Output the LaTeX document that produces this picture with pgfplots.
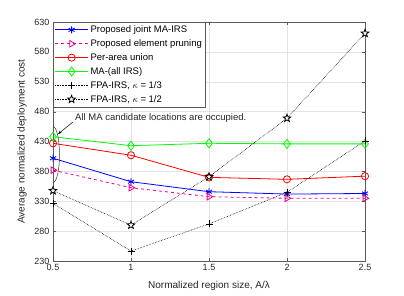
\documentclass[border=0pt]{standalone}
\usepackage{fontspec}
\setmainfont{Liberation Sans}
\usepackage{pgfplots}
\pgfplotsset{compat=1.18}
\usetikzlibrary{plotmarks,arrows.meta}
\pgfdeclareplotmark{pentagram}{%
  \pgfpathmoveto{\pgfpointpolar{90}{\pgfplotmarksize}}%
  \pgfpathlineto{\pgfpointpolar{126}{0.42\pgfplotmarksize}}%
  \pgfpathlineto{\pgfpointpolar{162}{\pgfplotmarksize}}%
  \pgfpathlineto{\pgfpointpolar{198}{0.42\pgfplotmarksize}}%
  \pgfpathlineto{\pgfpointpolar{234}{\pgfplotmarksize}}%
  \pgfpathlineto{\pgfpointpolar{270}{0.42\pgfplotmarksize}}%
  \pgfpathlineto{\pgfpointpolar{306}{\pgfplotmarksize}}%
  \pgfpathlineto{\pgfpointpolar{342}{0.42\pgfplotmarksize}}%
  \pgfpathlineto{\pgfpointpolar{18}{\pgfplotmarksize}}%
  \pgfpathlineto{\pgfpointpolar{54}{0.42\pgfplotmarksize}}%
  \pgfpathclose
  \pgfusepathqfillstroke}
\begin{document}
\begin{tikzpicture}
\useasboundingbox (-53pt,-34pt) rectangle (351pt,261pt);
\begin{axis}[
  scale only axis, width=312pt, height=239pt,
  xmin=0.5, xmax=2.5, ymin=230, ymax=630,
  xtick={0.5,1,1.5,2,2.5}, ytick={230,280,...,630},
  xticklabels={0.5,1,1.5,2,2.5},
  grid=major, grid style={gray!22, line width=0.4pt},
  axis line style={black!65, line width=0.4pt},
  tick style={black!65}, tick align=inside, major tick length=3pt,
  /pgf/number format/assume math mode=true,
  font=\fontsize{9}{11}\selectfont,
  ticklabel style={font=\fontsize{9}{11}\selectfont, black!85},
  label style={font=\fontsize{10}{12}\selectfont, black!85},
  xlabel={Normalized region size, A/λ},
  ylabel={Average normalized deployment cost},
  xlabel style={at={(axis description cs:0.5,-0.104)}, anchor=center},
  ylabel style={at={(axis description cs:-0.099,0.5)}, anchor=center},
  legend cell align=left,
  legend style={at={(0,1)}, anchor=north west, draw=black!65, line width=0.4pt,
     font=\fontsize{9.5}{11}\selectfont, inner sep=1.5pt, row sep=1.5pt},
  legend image code/.code={\draw[mark repeat=2,mark phase=2] plot coordinates {(0cm,0cm) (0.58cm,0cm) (1.16cm,0cm)};},
]
\addplot[blue, line width=0.8pt, mark=asterisk, mark size=3.5pt] coordinates {(0.5,402) (1,362.7) (1.5,346) (2,342) (2.5,343)};
\addlegendentry{Proposed joint MA-IRS}
\addplot[magenta, line width=0.8pt, dashed, mark=triangle, mark size=3.8pt, mark options={solid, rotate=-90}] coordinates {(0.5,382) (1,352.7) (1.5,337.6) (2,335) (2.5,335)};
\addlegendentry{Proposed element pruning}
\addplot[red, line width=0.8pt, mark=o, mark size=3.6pt] coordinates {(0.5,427) (1,407) (1.5,370) (2,366.7) (2.5,372)};
\addlegendentry{Per-area union}
\addplot[green, line width=0.8pt, mark=diamond, mark size=4.5pt] coordinates {(0.5,438) (1,423) (1.5,427) (2,426) (2.5,426)};
\addlegendentry{MA-(all IRS)}
\addplot[black, line width=0.6pt, densely dotted, mark=+, mark size=3.5pt, mark options={solid}] coordinates {(0.5,326.5) (1,246.7) (1.5,292) (2,345) (2.5,431)};
\addlegendentry{FPA-IRS, $\kappa$ = 1/3}
\addplot[black, line width=0.6pt, densely dotted, mark=pentagram, mark size=4pt, mark options={solid, fill=white, line width=0.8pt}] coordinates {(0.5,347.7) (1,290) (1.5,371) (2,469) (2.5,611)};
\addlegendentry{FPA-IRS, $\kappa$ = 1/2}
\draw[black!80, line width=0.5pt] (axis cs:0.5,408) ellipse [x radius=6.5pt, y radius=28pt];
\draw[black, line width=0.5pt, -{Stealth[length=4pt,width=3pt]}] (axis cs:0.628,462.6) -- (axis cs:0.532,442.5);
\node[anchor=west, inner sep=0pt, font=\fontsize{9.5}{11}\selectfont, black!85] at (axis cs:0.641,470) {All MA candidate locations are occupied.};
\end{axis}
\end{tikzpicture}
\end{document}
